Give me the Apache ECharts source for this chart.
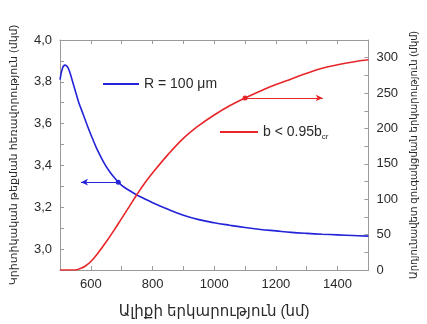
<!DOCTYPE html>
<html><head><meta charset="utf-8">
<script src="https://cdn.jsdelivr.net/npm/echarts@6/dist/echarts.min.js"></script>
<style>html,body{margin:0;padding:0;background:#fff}#c{width:427px;height:324px}</style>
</head><body><div id="c"></div>
<script>
// Wavelength (nm)
const blueX = [500, 508, 516, 524, 532, 540, 550, 560, 575, 590, 605, 620, 640, 660, 680, 700, 725, 750, 775, 800, 850, 900, 950, 1000, 1050, 1100, 1150, 1200, 1250, 1300, 1350, 1400, 1450, 1500];
// Critical distance (left axis, µm)
const blueY = [3.81, 3.865, 3.88, 3.872, 3.845, 3.805, 3.755, 3.705, 3.645, 3.585, 3.53, 3.478, 3.42, 3.372, 3.335, 3.305, 3.28, 3.258, 3.24, 3.222, 3.19, 3.162, 3.141, 3.126, 3.114, 3.103, 3.094, 3.087, 3.08, 3.075, 3.071, 3.068, 3.065, 3.062];
const redX = [500, 525, 550, 565, 580, 600, 625, 650, 675, 700, 725, 750, 775, 800, 850, 900, 950, 1000, 1050, 1100, 1150, 1200, 1250, 1300, 1350, 1400, 1450, 1500];
// Effective length (right axis, µm)
const redY = [0, 0, 0, 2, 5, 12, 25, 40, 56, 73, 90, 107, 123, 137, 163, 186, 204, 219, 232, 243, 253, 262, 270, 278, 285, 290, 294, 297];
const xTicks = [600, 800, 1000, 1200, 1400];
const leftTicks = [3.0, 3.2, 3.4, 3.6, 3.8, 4.0];
const rightTicks = [0, 50, 100, 150, 200, 250, 300];
const blueName = 'R = 100 μm';
const redName = 'b < 0.95bcr';
const blueArrow = [[689, 3.32], [568, 3.32]];
const redArrow = [[1100, 243], [1352, 243]];

const FONT = '"Liberation Sans", "DejaVu Sans", Arial, sans-serif';
const BLUE = '#2323d8', RED = '#e8262a', AX = '#9a9a9a', TXT = '#2a2a2a';
const chart = echarts.init(document.getElementById('c'));
const tick = {show: true, inside: true, length: 4, lineStyle: {color: AX}};
chart.setOption({
  animation: false,
  textStyle: {fontFamily: FONT},
  grid: {left: 60, right: 54, top: 40, bottom: 52},
  legend: [
    {data: [blueName], left: 103, top: 77, padding: 0, icon: 'rect', itemWidth: 36, itemHeight: 2, itemGap: 6,
     textStyle: {fontSize: 14, color: TXT, fontFamily: FONT}, selectedMode: false},
    {data: [redName], left: 220, top: 125, padding: 0, icon: 'rect', itemWidth: 38, itemHeight: 2, itemGap: 6,
     selectedMode: false,
     formatter: () => 'b < 0.95b{s|cr}',
     textStyle: {fontSize: 14, color: TXT, fontFamily: FONT,
       rich: {s: {fontSize: 8, color: TXT, padding: [9, 0, 0, 0], fontFamily: FONT}}}}
  ],
  xAxis: [
    {type: 'value', min: 500, max: 1500, interval: 100, position: 'bottom',
     name: 'Ալիքի երկարություն (նմ)', nameLocation: 'middle', nameGap: 34,
     nameTextStyle: {fontSize: 15, color: TXT, fontFamily: FONT},
     axisLine: {lineStyle: {color: AX, width: 1}}, axisTick: tick, splitLine: {show: false},
     axisLabel: {fontSize: 13, color: TXT, margin: 8,
       formatter: v => xTicks.includes(v) ? String(v) : ''}},
    {type: 'value', min: 500, max: 1500, interval: 100, position: 'top',
     axisLine: {show: true, lineStyle: {color: AX}}, axisTick: tick, axisLabel: {show: false}, splitLine: {show: false}}
  ],
  yAxis: [
    {type: 'value', min: 2.9, max: 4.0, interval: 0.1, position: 'left',
     name: 'Կրիտիկական թեքման հեռավորություն (մկմ)', nameLocation: 'middle', nameGap: 41,
     nameTextStyle: {fontSize: 11, color: TXT, fontFamily: FONT},
     axisLine: {show: true, lineStyle: {color: AX}}, axisTick: tick, splitLine: {show: false},
     axisLabel: {fontSize: 13, color: TXT, margin: 8,
       formatter: v => { const r = Math.round(v * 10) / 10; return leftTicks.some(t => Math.abs(t - r) < 1e-6) && Math.abs(v - r) < 1e-6 ? r.toFixed(1).replace('.', ',') : ''; }}},
    {type: 'value', min: 0, max: 325, interval: 25, position: 'right',
     name: 'Արդյունավետ զուգակցման երկարություն (մկմ)', nameLocation: 'middle', nameGap: 32,
     nameRotate: 90,
     nameTextStyle: {fontSize: 10, color: TXT, fontFamily: FONT},
     axisLine: {show: true, lineStyle: {color: AX}}, axisTick: tick, splitLine: {show: false},
     axisLabel: {fontSize: 13, color: TXT, margin: 8,
       formatter: v => rightTicks.includes(v) ? String(v) : ''}}
  ],
  series: [
    {name: blueName, type: 'line', xAxisIndex: 0, yAxisIndex: 0, smooth: 0.4, showSymbol: false,
     data: blueX.map((x, i) => [x, blueY[i]]), lineStyle: {color: BLUE, width: 1.6}, itemStyle: {color: BLUE},
     markLine: {silent: true, symbol: ['circle', 'arrow'], symbolSize: [5, 7], label: {show: false},
       lineStyle: {color: BLUE, width: 1.2, type: 'solid'},
       data: [[{coord: blueArrow[0]}, {coord: blueArrow[1]}]]}},
    {name: redName, type: 'line', xAxisIndex: 0, yAxisIndex: 1, smooth: 0.4, showSymbol: false,
     data: redX.map((x, i) => [x, redY[i]]), lineStyle: {color: RED, width: 1.6}, itemStyle: {color: RED},
     markLine: {silent: true, symbol: ['circle', 'arrow'], symbolSize: [5, 7], label: {show: false},
       lineStyle: {color: RED, width: 1.2, type: 'solid'},
       data: [[{coord: redArrow[0]}, {coord: redArrow[1]}]]}}
  ]
});
</script></body></html>
